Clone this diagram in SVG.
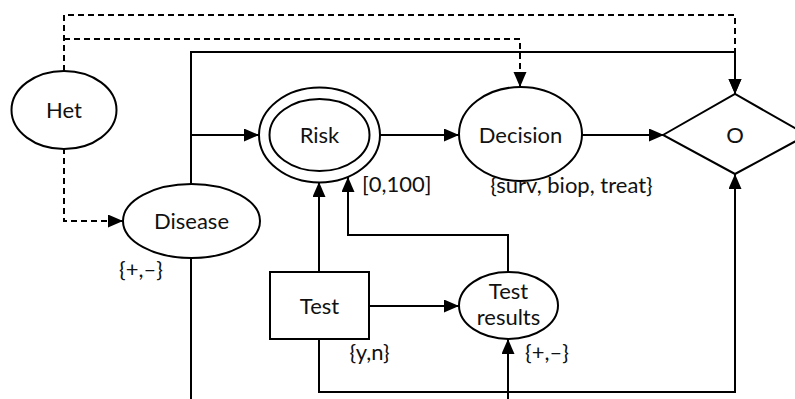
<svg xmlns="http://www.w3.org/2000/svg" width="795" height="399" viewBox="0 0 795 399">
<style>
.n{fill:#fff;stroke:#000;stroke-width:2}
.t{font-family:Lato,"Liberation Sans",sans-serif;font-size:22px;fill:#111;text-anchor:middle}
.l{font-family:Lato,"Liberation Sans",sans-serif;font-size:22px;fill:#111;text-anchor:middle}
.c{fill:none;stroke:#000;stroke-width:2}
.d{fill:none;stroke:#000;stroke-width:2;stroke-dasharray:6 4}
</style>
<defs>
<marker id="a" markerUnits="userSpaceOnUse" markerWidth="16" markerHeight="14" refX="15" refY="6.5" orient="auto">
<path d="M0,0 L15,6.5 L0,13 z" fill="#000"/>
</marker>
</defs>
<rect width="795" height="399" fill="#fff"/>
<g id="connectors">
<path class="d" d="M64,71 V15 H735 V94" marker-end="url(#a)"/>
<path class="d" d="M64,39 H520 V87" marker-end="url(#a)"/>
<path class="d" d="M64,148 V221 H123" marker-end="url(#a)"/>
<path class="c" d="M191,184 V52 H735 V94" marker-end="url(#a)"/>
<path class="c" d="M191,135 H259" marker-end="url(#a)"/>
<path class="c" d="M191,258 V399"/>
<path class="c" d="M380,135 H459" marker-end="url(#a)"/>
<path class="c" d="M582,135 H664" marker-end="url(#a)"/>
<path class="c" d="M319,272 V182" marker-end="url(#a)"/>
<path class="c" d="M508,272 V235 H348 V177" marker-end="url(#a)"/>
<path class="c" d="M369,306 H459" marker-end="url(#a)"/>
<path class="c" d="M319,339 V392 H735 V174" marker-end="url(#a)"/>
<path class="c" d="M508,399 V339" marker-end="url(#a)"/>
</g>
<g id="het">
<ellipse class="n" cx="64" cy="110" rx="52.5" ry="39"/>
<text class="t" x="64" y="118">Het</text>
</g>
<g id="disease">
<ellipse class="n" cx="191.5" cy="221" rx="68.5" ry="37"/>
<text class="t" x="191.5" y="229">Disease</text>
<text class="l" x="141" y="277">{+,–}</text>
</g>
<g id="risk">
<ellipse class="n" cx="319.5" cy="135" rx="60.5" ry="47.5"/>
<ellipse class="n" cx="319.5" cy="135" rx="50" ry="36"/>
<text class="t" x="319.5" y="142.5">Risk</text>
<text class="l" x="362" y="191.5" style="text-anchor:start">[0,100]</text>
</g>
<g id="decision">
<ellipse class="n" cx="520.5" cy="134" rx="61.5" ry="47"/>
<text class="t" x="520.5" y="142.5">Decision</text>
<text class="l" x="571.5" y="192.5">{surv, biop, treat}</text>
</g>
<g id="o">
<polygon class="n" points="663,135 735,94 807,135 735,174"/>
<text class="t" x="735" y="142.5">O</text>
</g>
<g id="test">
<rect class="n" x="270" y="272" width="99" height="67"/>
<text class="t" x="319.5" y="314">Test</text>
<text class="l" x="369.5" y="359.5">{y,n}</text>
</g>
<g id="testresults">
<ellipse class="n" cx="508.5" cy="305.5" rx="49.5" ry="33.5"/>
<text class="t" x="508.5" y="299">Test</text>
<text class="t" x="508.5" y="325">results</text>
<text class="l" x="547" y="359.5">{+,–}</text>
</g>
</svg>
